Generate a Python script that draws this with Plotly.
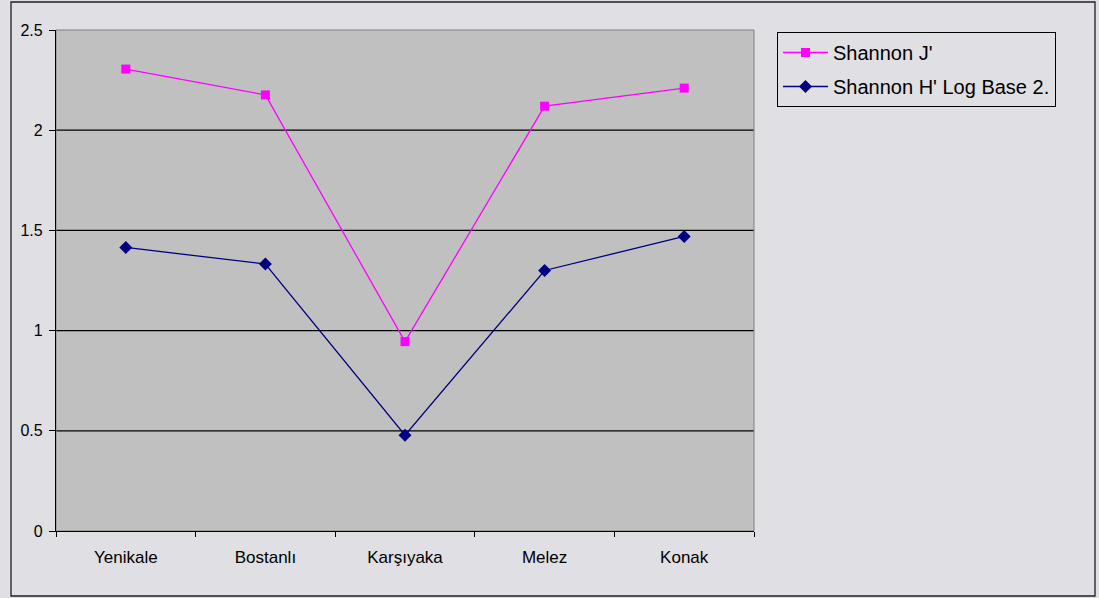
import plotly.graph_objects as go

# Sites along the bay and their diversity indices
sites = ["Yenikale", "Bostanlı", "Karşıyaka", "Melez", "Konak"]
shannon_j = [2.305, 2.176, 0.945, 2.120, 2.210]
shannon_h_log2 = [1.415, 1.332, 0.478, 1.300, 1.470]
y_ticks = [0, 0.5, 1, 1.5, 2, 2.5]
grid_levels = [0.5, 1, 1.5, 2]

W, H = 1099, 598
L, T, R, B = 56, 30, 345, 67
pw, ph = W - L - R, H - T - B

bg = "#e0dfe3"
font = "Liberation Sans, Arial, sans-serif"

fig = go.Figure()
fig.add_trace(go.Scatter(
    x=sites, y=shannon_j, name="Shannon J'", mode="lines+markers",
    line=dict(color="#ff00ff", width=1.3),
    marker=dict(symbol="square", size=9, color="#ff00ff"),
    legendgroup="a",
))
fig.add_trace(go.Scatter(
    x=sites, y=shannon_h_log2, name="Shannon H' Log Base 2.", mode="lines+markers",
    line=dict(color="#000080", width=1.3),
    marker=dict(symbol="diamond", size=10, color="#000080"),
    legendgroup="b",
))

shapes = []
for g in grid_levels:
    shapes.append(dict(type="line", xref="paper", yref="y", x0=0, x1=1, y0=g, y1=g,
                       line=dict(color="#000000", width=1.2), layer="below"))
# plot area border
shapes.append(dict(type="rect", xref="paper", yref="paper", x0=0, x1=1, y0=0, y1=1,
                   line=dict(color="#808080", width=1), layer="below"))
# outer chart frame
fx0, fx1 = (11 - L) / pw, (1095 - L) / pw
fy0, fy1 = (H - B - 596) / ph, (H - B - 2) / ph
shapes.append(dict(type="rect", xref="paper", yref="paper", x0=fx0, x1=fx1, y0=fy0, y1=fy1,
                   line=dict(color="#202020", width=1.3), layer="below"))

fig.update_layout(
    width=W, height=H,
    margin=dict(l=L, r=R, t=T, b=B, pad=0),
    paper_bgcolor=bg, plot_bgcolor="#c0c0c0",
    font=dict(family=font, color="#000000"),
    shapes=shapes,
    showlegend=True,
    legend=dict(
        x=(777 - L) / pw, y=(H - B - 32) / ph, xanchor="left", yanchor="top",
        bgcolor=bg, bordercolor="#000000", borderwidth=1,
        font=dict(size=20, family=font, color="#000000"),
        itemwidth=45, traceorder="grouped", tracegroupgap=5,
    ),
    xaxis=dict(
        type="category", tickson="boundaries", ticks="outside", ticklen=5,
        tickcolor="#000000", showline=True, linecolor="#000000", linewidth=1.2,
        showgrid=False, zeroline=False, tickfont=dict(size=17),
        ticklabelstandoff=10, range=[-0.5, 4.5],
    ),
    yaxis=dict(
        range=[0, 2.5], tickvals=y_ticks, ticktext=["0", "0.5", "1", "1.5", "2", "2.5"],
        ticks="outside", ticklen=6, tickcolor="#000000",
        showline=True, linecolor="#000000", linewidth=1.2,
        showgrid=False, zeroline=False, tickfont=dict(size=16),
        ticklabelstandoff=3,
    ),
)

fig.write_html("out.html")
